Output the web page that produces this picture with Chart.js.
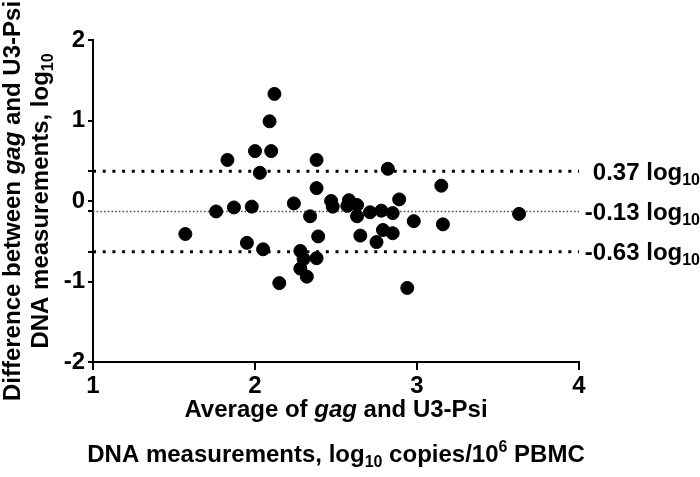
<!DOCTYPE html>
<html lang="en">
<head>
    <meta charset="UTF-8">
    <title>Bland-Altman gag vs U3-Psi</title>
    <script src="https://cdn.jsdelivr.net/npm/chart.js"></script>
    <style>
        body { margin: 0; background: #fff; }
    </style>
</head>
<body>
    <canvas id="myChart" width="700" height="477"></canvas>

<script>
    // average of the two measurements (x) and their difference (y)
    const avgVals = [
        1.57, 1.76, 1.83, 1.87, 1.95, 1.98, 2.00, 2.03, 2.05, 2.09, 2.10, 2.12,
        2.15, 2.24, 2.28, 2.28, 2.30, 2.32, 2.34, 2.38, 2.38, 2.38, 2.39, 2.47,
        2.48, 2.57, 2.58, 2.63, 2.63, 2.65, 2.71, 2.75, 2.78, 2.79, 2.82, 2.85,
        2.85, 2.89, 2.94, 2.98, 3.15, 3.16, 3.63
    ];
    const diffVals = [
        -0.41, -0.13, 0.51, -0.08, -0.52, -0.07, 0.62, 0.35, -0.60, 0.99, 0.62, 1.33,
        -1.02, -0.03, -0.62, -0.84, -0.72, -0.94, -0.19, 0.16, 0.51, -0.71, -0.44, 0.00,
        -0.07, -0.06, 0.01, -0.19, -0.05, -0.43, -0.14, -0.51, -0.12, -0.36, 0.40, -0.40,
        -0.15, 0.02, -1.08, -0.25, 0.19, -0.29, -0.16
    ];

    // limits of agreement and mean difference
    const limitVals = [0.37, -0.13, -0.63];
    const limitLabels = ['0.37', '-0.13', '-0.63'];

    const xTicks = [1, 2, 3, 4];
    const yTicks = [-2, -1, 0, 1, 2];

    const FONT = '"Liberation Sans", Arial, sans-serif';

    const pontos = avgVals.map((v, i) => ({ x: v, y: diffVals[i] }));

    // linhas horizontais de x=1 até x=4
    const linhas = limitVals.map((v, i) => ({
        type: 'line',
        data: [{ x: xTicks[0], y: v }, { x: xTicks[xTicks.length - 1], y: v }],
        borderColor: i == 1 ? '#444' : '#000',
        borderWidth: i == 1 ? 1.5 : 3,
        borderDash: i == 1 ? [1.5, 2.2] : [3, 6.7],
        pointRadius: 0,
        fill: false
    }));

    // desenha texto com itálico / subscrito / sobrescrito
    function rich(ctx, parts, x, y, align) {
        const fonts = {
            b: 'bold 24px ' + FONT,
            bi: 'italic bold 24px ' + FONT,
            sub: 'bold 16px ' + FONT,
            sup: 'bold 16px ' + FONT
        };
        const dy = { b: 0, bi: 0, sub: 5, sup: -10 };
        let w = 0;
        parts.forEach(p => { ctx.font = fonts[p.f]; w += ctx.measureText(p.t).width; });
        let cx = align == 'right' ? x - w : x - w / 2;
        ctx.fillStyle = '#000';
        ctx.textAlign = 'left';
        ctx.textBaseline = 'alphabetic';
        parts.forEach(p => {
            ctx.font = fonts[p.f];
            ctx.fillText(p.t, cx, y + dy[p.f]);
            cx += ctx.measureText(p.t).width;
        });
    }

    const textos = {
        id: 'textos',
        afterDraw(chart) {
            const ctx = chart.ctx;
            const area = chart.chartArea;
            const ys = chart.scales.y;
            const midX = (area.left + area.right) / 2;
            const midY = (area.top + area.bottom) / 2;

            // título do eixo x
            rich(ctx, [
                { t: 'Average of ', f: 'b' }, { t: 'gag', f: 'bi' }, { t: ' and U3-Psi', f: 'b' }
            ], midX, 417, 'center');
            rich(ctx, [
                { t: 'DNA measurements, log', f: 'b' }, { t: '10', f: 'sub' },
                { t: ' copies/10', f: 'b' }, { t: '6', f: 'sup' }, { t: ' PBMC', f: 'b' }
            ], midX, 462, 'center');

            // título do eixo y (rotacionado)
            ctx.save();
            ctx.translate(20, midY);
            ctx.rotate(-Math.PI / 2);
            rich(ctx, [
                { t: 'Difference between ', f: 'b' }, { t: 'gag', f: 'bi' }, { t: ' and U3-Psi', f: 'b' }
            ], 0, 0, 'center');
            ctx.restore();
            ctx.save();
            ctx.translate(48, midY);
            ctx.rotate(-Math.PI / 2);
            rich(ctx, [
                { t: 'DNA measurements, log', f: 'b' }, { t: '10', f: 'sub' }
            ], 0, 0, 'center');
            ctx.restore();

            // rótulos das linhas à direita
            limitVals.forEach((v, i) => {
                const py = ys.getPixelForValue(v) + 8.5;
                rich(ctx, [
                    { t: limitLabels[i] + ' log', f: 'b' }, { t: '10', f: 'sub' }
                ], 700, py, 'right');
            });
        }
    };

    const config = {
        type: 'scatter',
        data: {
            datasets: [{
                label: 'diferença',
                data: pontos,
                backgroundColor: '#000',
                borderColor: '#000',
                pointRadius: 6.5,
                pointHoverRadius: 6.5
            }].concat(linhas)
        },
        options: {
            responsive: false,
            animation: false,
            layout: { padding: { top: 40, right: 121, left: 0, bottom: 0 } },
            plugins: {
                legend: { display: false },
                tooltip: { enabled: false }
            },
            scales: {
                x: {
                    type: 'linear',
                    min: xTicks[0],
                    max: xTicks[xTicks.length - 1],
                    afterBuildTicks: s => { s.ticks = xTicks.map(v => ({ value: v })); },
                    afterFit: s => { s.height = 115; },
                    border: { display: true, color: '#000', width: 2 },
                    grid: { drawOnChartArea: false, color: '#000', lineWidth: 2, tickLength: 8 },
                    ticks: { color: '#000', padding: 2, font: { family: FONT, size: 24, weight: 'bold' } }
                },
                y: {
                    min: yTicks[0],
                    max: yTicks[yTicks.length - 1],
                    // marcas extras no eixo nas linhas de concordância
                    afterBuildTicks: s => {
                        s.ticks = yTicks.concat(limitVals).sort((a, b) => a - b).map(v => ({ value: v }));
                    },
                    afterFit: s => { s.width = 93; },
                    border: { display: true, color: '#000', width: 2 },
                    grid: { drawOnChartArea: false, color: '#000', lineWidth: 2, tickLength: 5 },
                    ticks: {
                        color: '#000',
                        padding: 3,
                        font: { family: FONT, size: 24, weight: 'bold' },
                        callback: v => yTicks.includes(v) ? String(v) : ''
                    }
                }
            }
        },
        plugins: [textos]
    };

    const myChart = new Chart(document.getElementById('myChart'), config);
</script>
</body>
</html>
